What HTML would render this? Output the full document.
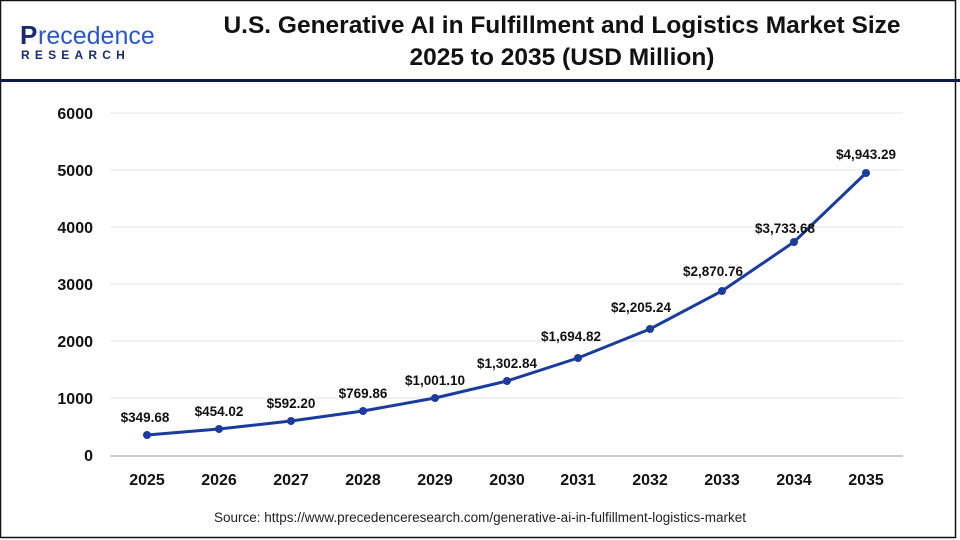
<!DOCTYPE html>
<html><head><meta charset="utf-8"><style>
body{margin:0;background:#fff;}
.w{position:relative;width:960px;height:540px;overflow:hidden;font-family:"Liberation Sans",Arial,sans-serif;}
</style></head><body><div class="w">
<svg width="960" height="540" viewBox="0 0 960 540" xmlns="http://www.w3.org/2000/svg" font-family="Liberation Sans, Arial, sans-serif">
<rect x="0.5" y="0.5" width="955" height="537" fill="#fff" stroke="#111" stroke-width="1.5"/>
<rect x="0" y="79" width="960" height="3" fill="#0f1a4a"/>
<text x="20" y="44" font-size="26" fill="#1a2a6c" font-weight="bold">P</text>
<text x="38" y="44" font-size="25" fill="#2a55d0">recedence</text>
<text x="21" y="59" font-size="12" fill="#1a2a6c" letter-spacing="5.2" font-weight="bold">RESEARCH</text>
<text x="562" y="33" font-size="24.5" font-weight="bold" text-anchor="middle" fill="#111">U.S. Generative AI in Fulfillment and Logistics Market Size</text>
<text x="562" y="65" font-size="24.5" font-weight="bold" text-anchor="middle" fill="#111">2025 to 2035 (USD Million)</text>
<g stroke="#e6e6e6" stroke-width="1">
<line x1="110" x2="903" y1="113" y2="113"/><line x1="110" x2="903" y1="170" y2="170"/>
<line x1="110" x2="903" y1="227" y2="227"/><line x1="110" x2="903" y1="284" y2="284"/>
<line x1="110" x2="903" y1="341" y2="341"/><line x1="110" x2="903" y1="398" y2="398"/>
</g>
<line x1="110" x2="903" y1="456" y2="456" stroke="#bbb" stroke-width="1.5"/>
<g font-size="16" font-weight="bold" fill="#111" text-anchor="end">
<text x="93" y="119">6000</text><text x="93" y="176">5000</text><text x="93" y="233">4000</text>
<text x="93" y="290">3000</text><text x="93" y="347">2000</text><text x="93" y="404">1000</text><text x="93" y="461">0</text>
</g>
<g font-size="16" font-weight="bold" fill="#111" text-anchor="middle">
<text x="147" y="485">2025</text><text x="219" y="485">2026</text><text x="291" y="485">2027</text><text x="363" y="485">2028</text><text x="435" y="485">2029</text><text x="507" y="485">2030</text><text x="578" y="485">2031</text><text x="650" y="485">2032</text><text x="722" y="485">2033</text><text x="794" y="485">2034</text><text x="866" y="485">2035</text>
</g>
<polyline fill="none" stroke="#1a3c9c" stroke-width="3" points="147,435 219,429 291,421 363,411 435,398 507,381 578,358 650,329 722,291 794,242 866,173"/>
<g fill="#1a3c9c">
<circle cx="147" cy="435" r="4"/><circle cx="219" cy="429" r="4"/><circle cx="291" cy="421" r="4"/><circle cx="363" cy="411" r="4"/><circle cx="435" cy="398" r="4"/><circle cx="507" cy="381" r="4"/><circle cx="578" cy="358" r="4"/><circle cx="650" cy="329" r="4"/><circle cx="722" cy="291" r="4"/><circle cx="794" cy="242" r="4"/><circle cx="866" cy="173" r="4"/>
</g>
<g font-size="13.5" font-weight="bold" fill="#111" text-anchor="middle">
<text x="145" y="422">$349.68</text><text x="219" y="416">$454.02</text><text x="291" y="408">$592.20</text><text x="363" y="398">$769.86</text><text x="435" y="385">$1,001.10</text><text x="507" y="368">$1,302.84</text><text x="571" y="341">$1,694.82</text><text x="641" y="312">$2,205.24</text><text x="713" y="276">$2,870.76</text><text x="785" y="233">$3,733.68</text><text x="866" y="159">$4,943.29</text>
</g>
<text x="480" y="522" font-size="13.5" fill="#222" text-anchor="middle">Source: https://www.precedenceresearch.com/generative-ai-in-fulfillment-logistics-market</text>
</svg></div></body></html>
